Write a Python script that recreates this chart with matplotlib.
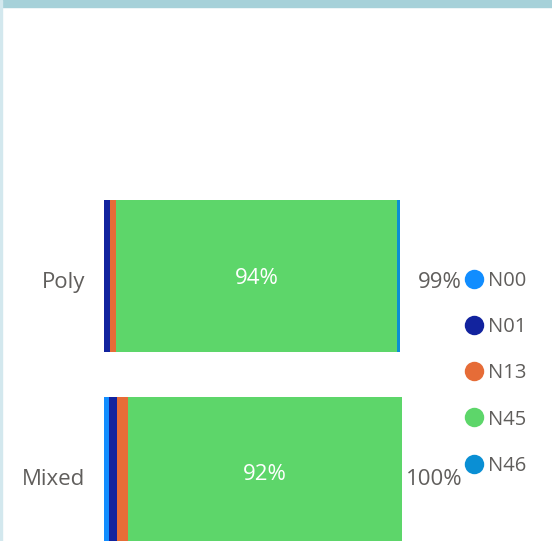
import matplotlib.pyplot as plt
from matplotlib.lines import Line2D
from matplotlib.patches import Rectangle

categories = ["Poly", "Mixed"]
series = ["N00", "N01", "N13", "N45", "N46"]
values = {
    "N00": [0.0, 1.7],
    "N01": [2.0, 2.6],
    "N13": [2.0, 3.7],
    "N45": [94.3, 92.0],
    "N46": [1.0, 0.0],
}
totals = ["99%", "100%"]
inner_labels = {"N45": ["94%", "92%"]}
colors = {
    "N00": "#118DFF",
    "N01": "#12239E",
    "N13": "#E66C37",
    "N45": "#5DD66A",
    "N46": "#0A8FD4",
}

W, H = 552, 541
plt.rcParams["font.family"] = ["Open Sans", "DejaVu Sans"]
fig = plt.figure(figsize=(W / 100, H / 100), dpi=100)

# frame decorations
fig.patches.append(Rectangle((0, 1 - 7 / H), 1, 7 / H, transform=fig.transFigure,
                             color="#A6D1D9", zorder=5))
fig.patches.append(Rectangle((0, 0), 2 / W, 1, transform=fig.transFigure,
                             color="#D3E8EE", zorder=5))

# axes: x 0..100 spans px 104..402, category spacing 196.5 px
x0, x1 = 104, 402
ax = fig.add_axes([x0 / W, 0, (x1 - x0) / W, 1])
ax.set_xlim(0, 100)
c0, step = 276, 196.5
ax.set_ylim((H - c0) / step, -c0 / step)
ax.axis("off")

ypos = list(range(len(categories)))
left = [0.0] * len(categories)
for s in series:
    ax.barh(ypos, values[s], left=left, height=0.77, color=colors[s], linewidth=0)
    if s in inner_labels:
        for i, lab in enumerate(inner_labels[s]):
            ax.text(left[i] + values[s][i] / 2, ypos[i] + 0.012, lab, color="white",
                    ha="center", va="center", fontsize=16)
    left = [l + v for l, v in zip(left, values[s])]

for i, cat in enumerate(categories):
    ax.text(-6.2, ypos[i] + 0.035, cat, ha="right", va="center", fontsize=16,
            color="#605E5C", clip_on=False)
    ax.text(120.2, ypos[i] + 0.035, totals[i], ha="right", va="center", fontsize=16,
            color="#605E5C", clip_on=False)

handles = [Line2D([], [], marker="o", linestyle="", markersize=14,
                  markerfacecolor=colors[s], markeredgewidth=0) for s in series]
fig.legend(handles, series, loc="upper left", bbox_to_anchor=(466 / W, 1 - 271 / H),
           frameon=False, fontsize=14.5, labelcolor="#605E5C", handlelength=0.8,
           handletextpad=0.3, labelspacing=1.3, borderaxespad=0, borderpad=0)

fig.savefig("out.png", dpi=100)
